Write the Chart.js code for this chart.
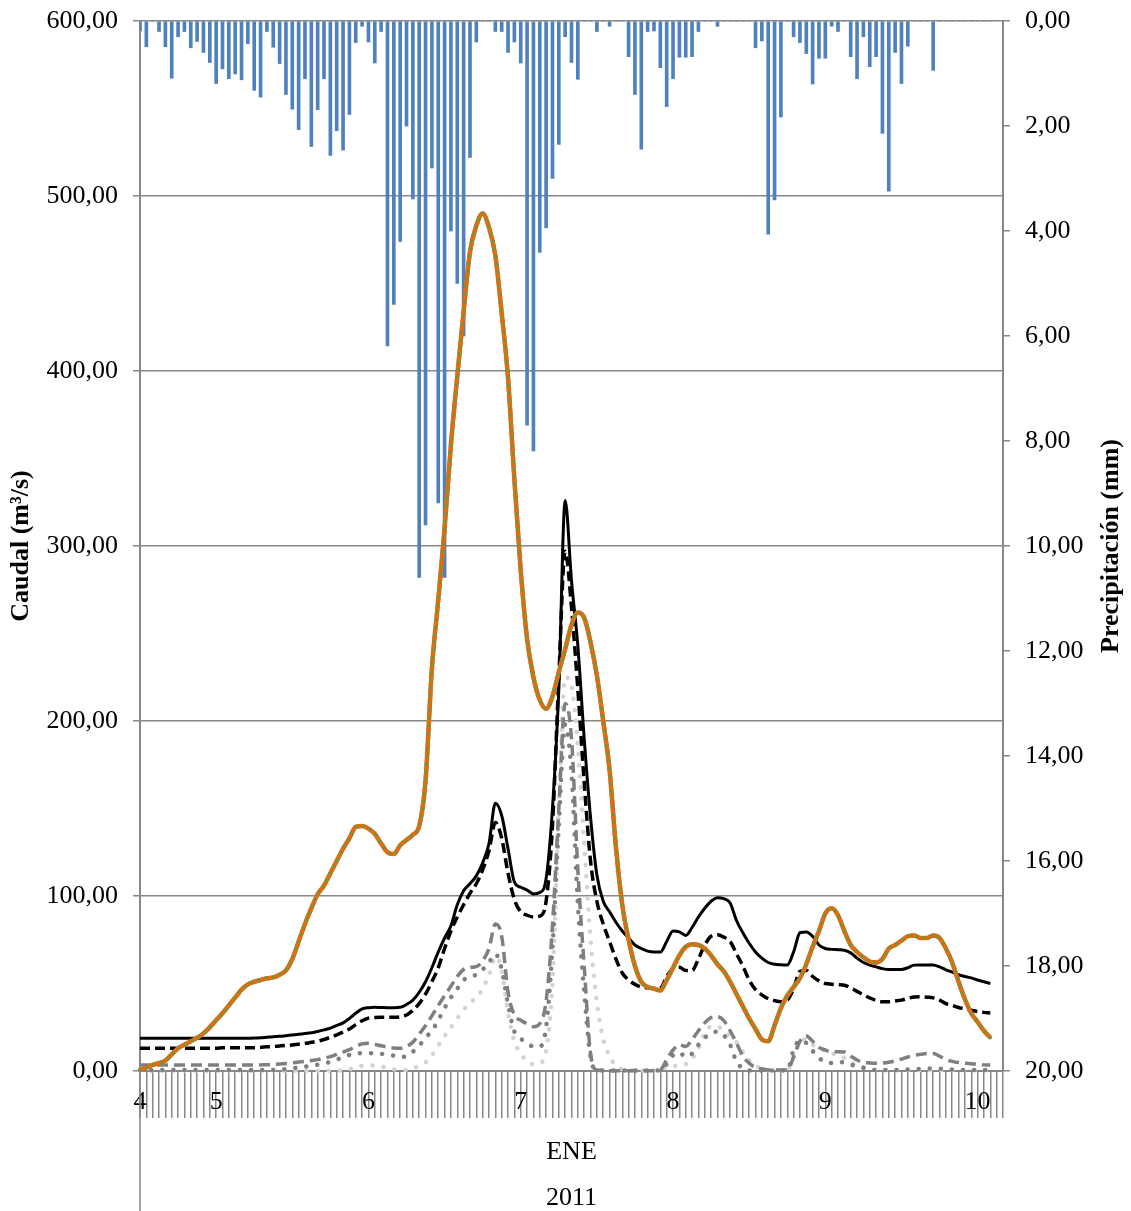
<!DOCTYPE html>
<html>
<head>
<meta charset="utf-8">
<script src="https://cdn.jsdelivr.net/npm/chart.js@4.4.1/dist/chart.umd.min.js"></script>
<style>
  html, body { margin: 0; padding: 0; background: #fff; }
</style>
</head>
<body>
<canvas id="chart" width="1131" height="1211"></canvas>
<script>
// hourly categories: day 4 (one hour), days 5-9 (24 h), day 10 (16 h)
const dayNames = ['4', '5', '6', '7', '8', '9', '10'];
const hoursPerDay = [1, 24, 24, 24, 24, 24, 16];
const dayLabelAt = [0, 12, 36, 60, 84, 108, 132];
const monthLabels = ['ENE'];
const yearLabels = ['2011'];

// precipitation (mm), one value per hour
const precip = [
  0.19, 0.49, 0, 0.2, 0.49, 1.09, 0.3, 0.2, 0.51, 0.39, 0.6, 0.79,
  1.19, 0.91, 1.1, 1.01, 1.12, 0.43, 1.32, 1.45, 0.2, 0.5, 0.81, 1.4,
  1.68, 2.07, 1.1, 2.39, 1.69, 1.1, 2.56, 2.09, 2.46, 1.78, 0.41, 0.1,
  0.4, 0.8, 0.2, 6.19, 5.4, 4.2, 2.0, 3.39, 10.6, 9.6, 2.8, 9.18,
  10.6, 4.0, 5.0, 6.0, 2.6, 0.4, 0, 0, 0.2, 0.2, 0.6, 0.4,
  0.8, 7.7, 8.19, 4.41, 3.94, 3.0, 2.35, 0.3, 0.79, 1.11, 0, 0,
  0.2, 0, 0.1, 0, 0, 0.68, 1.4, 2.44, 0.2, 0.19, 0.89, 1.63,
  1.1, 0.69, 0.69, 0.68, 0.2, 0, 0, 0.1, 0, 0, 0, 0,
  0, 0.51, 0.38, 4.06, 3.41, 1.83, 0, 0.3, 0.41, 0.62, 1.2, 0.71,
  0.71, 0.1, 0.2, 0, 0.68, 1.1, 0.3, 0.87, 0.68, 2.14, 3.24, 0.6,
  1.19, 0.48, 0, 0, 0, 0.94, 0, 0, 0, 0, 0, 0,
  0, 0, 0
];

// caudal (m3/s)
const flowTotal = [
  0.6, 2, 3.5, 4.5, 6, 9.5, 13, 15, 17, 19, 21.5, 25,
  29, 33, 37.5, 42, 46.5, 49.5, 51, 52, 53, 53.5, 55, 57.5,
  64, 74, 84, 93, 101, 106, 113, 120, 127, 133, 139.5, 140,
  138.5, 135.5, 130, 125, 124, 129, 132, 135, 140, 166, 230, 269,
  310, 358, 397, 434, 468, 483, 490, 482, 466, 433, 396, 338,
  286, 247, 225, 212, 207, 214, 228, 241, 255, 262, 259, 245,
  226, 200, 172, 128, 95, 75, 60, 51, 48, 47, 46, 52,
  59, 66, 71, 72.5, 72, 70, 66, 61, 57, 51, 44, 37,
  30, 24, 18, 17, 26, 36, 43, 48, 53, 61, 71, 80,
  90, 93, 89, 80, 72, 68, 65, 62.5, 62, 64, 70, 72,
  74.5, 77, 77.5, 76, 76, 77.5, 76, 70, 62, 51, 41, 33,
  28, 23, 19
];

const flowA = [
  18.7, 18.7, 18.7, 18.7, 18.7, 18.7, 18.7, 18.7, 18.7, 18.7, 18.7, 18.7,
  18.7, 18.7, 18.7, 18.7, 18.7, 18.7, 18.8, 19, 19.3, 19.6, 19.8, 20.2,
  20.6, 21, 21.4, 21.8, 22.6, 23.5, 24.5, 26, 27.5, 30, 33, 35.5,
  36.2, 36.4, 36.3, 36.2, 36.2, 36.4, 38, 40.5, 45, 51, 59, 68,
  76, 83, 95, 103, 107, 111.5, 119, 130, 153, 146, 127, 108,
  105, 103.4, 101.2, 102, 110, 150, 218, 326, 280, 243, 190, 145,
  112, 97, 91, 85, 80, 76, 72, 70, 68.5, 68, 68, 74,
  80, 79.5, 77.5, 82, 88, 93, 97, 99, 98.5, 96, 86, 79,
  73, 68, 64.5, 62, 61, 60.7, 60.6, 68, 79, 79.5, 77, 72,
  70, 69.5, 69.3, 69, 67.5, 64.5, 62, 60.5, 59.5, 58.5, 58, 58,
  58, 59, 60.5, 60.6, 60.6, 60.6, 59.5, 57.8, 56.5, 55, 54, 53.2,
  52, 51, 50
];

const flowB = [
  13, 13, 13, 13, 13, 13, 13, 13, 13, 13, 13, 13,
  13, 13.3, 13.3, 13.3, 13.3, 13.3, 13.3, 13.5, 13.8, 14, 14.3, 14.6,
  14.9, 15.3, 15.8, 16.4, 17, 18, 19.3, 20.6, 22.2, 24, 26.5, 28.7,
  30.2, 30.6, 30.7, 30.7, 30.7, 30.9, 32, 34.7, 38.5, 44, 51, 59,
  70, 80, 88, 95, 101.5, 107, 115, 126, 142, 133, 113, 98,
  91, 89, 88, 88.5, 97, 140, 225, 297, 265, 218, 165, 120,
  97, 84, 74, 64, 56, 52, 49.5, 48, 47.5, 47.3, 47.4, 54,
  58.5, 59.3, 57.5, 57.5, 64, 72, 77, 77.8, 76.5, 74, 67, 60,
  52, 46.5, 43.5, 41.3, 40.2, 39.6, 40.5, 47, 57, 57.5, 54, 51.5,
  50, 49.6, 49.3, 49, 47.5, 45.5, 43.5, 41.8, 40.3, 39.6, 39.6, 40,
  40.5, 41.5, 42.3, 42.5, 42.2, 41.8, 40.5, 38.5, 37.5, 36.3, 35.5, 34.8,
  34, 33.5, 33.2
];

const flowC = [
  3.4, 3.4, 3.4, 3.4, 3.4, 3.4, 3.4, 3.4, 3.4, 3.4, 3.4, 3.4,
  3.4, 3.4, 3.4, 3.4, 3.4, 3.4, 3.4, 3.5, 3.6, 3.8, 4, 4.3,
  4.7, 5.1, 5.5, 6, 6.5, 7.3, 8.2, 9.5, 10.8, 12.2, 14, 15.5,
  15.8, 15.2, 14.4, 13.7, 13.2, 13, 14, 16.5, 21, 26, 31.5, 37.5,
  43, 48.5, 54, 58, 59.2, 59.6, 63, 70, 84, 77, 45, 32,
  29, 27, 25.3, 27, 40, 83, 150, 210, 190, 115, 60, 10,
  0.6, 0.3, 0.2, 0.2, 0.2, 0.2, 0.2, 0.2, 0.2, 0.2, 0.6, 6.5,
  12, 15, 14, 18, 23, 27.5, 30.5, 31, 28.8, 23, 16, 8.5,
  4.5, 2, 1.3, 0.6, 0.6, 0.6, 0.6, 8, 17, 20, 17, 13.5,
  12, 11, 11, 10.8, 8.5, 6.3, 5, 4.6, 4.4, 4.5, 5, 5.8,
  6.8, 8, 8.9, 9.5, 10, 10, 8.5, 6.6, 5.5, 4.8, 4.4, 4.2,
  3.8, 3.5, 3.4
];

const flowD = [
  0.6, 0.6, 0.6, 0.6, 0.6, 0.6, 0.6, 0.6, 0.6, 0.6, 0.6, 0.6,
  0.6, 0.6, 0.6, 0.6, 0.6, 0.6, 0.6, 0.6, 0.6, 0.6, 0.6, 1.2,
  1.6, 2, 2.5, 3, 3.6, 4.3, 5.2, 6.5, 8, 9.2, 10, 10.2,
  10.2, 10, 9.8, 9.5, 8.8, 8, 8.5, 11, 14.5, 19, 23, 29,
  36, 42, 47, 52, 54, 55, 58, 62, 67, 58, 38, 22.5,
  18.5, 16, 14, 14, 25, 70, 140, 198, 170, 95, 45, 8,
  0.5, 0.3, 0.3, 0.3, 0.3, 0.3, 0.3, 0.3, 0.3, 0.3, 0.3, 4,
  9, 10.5, 8, 10, 15, 19, 21.7, 22.5, 20.5, 15, 5.5, 1.5,
  0.3, 0.3, 0.3, 0.3, 0.3, 0.3, 0.3, 12, 17.5, 16, 11.5, 7.5,
  5, 4.5, 5.2, 4.8, 3.6, 2.8, 1.8, 0.8, 0.6, 0.6, 0.6, 0.6,
  0.6, 0.8, 1, 1.2, 1.4, 1.5, 1.4, 1, 0.8, 0.6, 0.6, 0.6,
  0.6, 0.6, 0.6
];

const flowE = [
  0.2, 0.2, 0.2, 0.2, 0.2, 0.2, 0.2, 0.2, 0.2, 0.2, 0.2, 0.2,
  0.2, 0.2, 0.2, 0.2, 0.2, 0.2, 0.2, 0.2, 0.2, 0.2, 0.2, 0.2,
  0.2, 0.2, 0.2, 0.2, 0.2, 0.2, 0.2, 0.2, 0.4, 1, 2, 3,
  3.3, 3, 2.5, 2, 1, 0.5, 0.6, 1.5, 3, 5, 9, 14.5,
  20, 25, 30, 35, 39, 42, 47, 55, 65, 58, 33, 17,
  10, 5.5, 3.8, 4.5, 12, 50, 150, 225, 220, 185, 130, 75,
  39, 18, 8.5, 3, 1, 0.3, 0.3, 0.3, 0.3, 0.3, 0.3, 2.5,
  2.8, 3.2, 3.8, 7, 13, 21.5, 25.5, 25.5, 23, 20, 16.5, 11,
  6, 3, 1.3, 0.3, 0.3, 0.3, 0.3, 8, 17, 18, 15, 13,
  11.5, 10.2, 9, 7.5, 5, 3.5, 2.3, 1.2, 0.5, 0.5, 0.5, 0.5,
  0.5, 0.5, 0.5, 0.5, 0.5, 0.5, 0.5, 0.5, 0.5, 0.5, 0.5, 0.5,
  0.5, 0.5, 0.5
];

const hourLabels = [];
dayNames.forEach((d, k) => {
  const first = k === 0 ? 24 - hoursPerDay[0] : 0;
  for (let h = 0; h < hoursPerDay[k]; h++) {
    hourLabels.push(d + '/01 ' + String(first + h).padStart(2, '0') + ':00');
  }
});

const gray = '#878787';
const serif = "'Liberation Serif', 'Times New Roman', serif";
const tickFont = { family: serif, size: 26 };
const titleFont = { family: serif, size: 26, weight: 'bold' };
const fmt = v => Number(v).toFixed(2).replace('.', ',');

// left separator under the axis and the right axis title (reads bottom to top)
const extras = {
  id: 'extras',
  afterDraw(chart) {
    const { ctx, chartArea } = chart;
    ctx.save();
    ctx.strokeStyle = gray;
    ctx.lineWidth = 1.5;
    ctx.beginPath();
    ctx.moveTo(chartArea.left, chartArea.bottom);
    ctx.lineTo(chartArea.left, chart.height);
    ctx.stroke();
    ctx.translate(chart.width - 20, (chartArea.top + chartArea.bottom) / 2);
    ctx.rotate(-Math.PI / 2);
    ctx.font = 'bold 26px ' + serif;
    ctx.fillStyle = '#000';
    ctx.textAlign = 'center';
    ctx.textBaseline = 'middle';
    ctx.fillText('Precipitación (mm)', 0, 0);
    ctx.restore();
  }
};

const dotted = (color, width, gap) => ({
  borderColor: color, borderWidth: width, borderDash: [0.1, gap], borderCapStyle: 'round'
});

// keep the vertical axes from pushing the plot down
const fixVertical = width => s => {
  s.width = width;
  s.paddingTop = 8;
  s.paddingBottom = 8;
};

new Chart(document.getElementById('chart'), {
  type: 'line',
  data: {
    labels: hourLabels,
    datasets: [
      Object.assign({ label: 'Caudal total (2)', data: flowTotal, order: 0 }, dotted('#77933C', 3.5, 7.5)),
      { label: 'Caudal total', data: flowTotal, borderColor: '#E46C0A', borderWidth: 4.5, order: 1 },
      { label: 'Caudal total (1)', data: flowTotal, borderColor: '#4F81BD', borderWidth: 4, order: 2 },
      { label: 'Caudal A', data: flowA, borderColor: '#000', borderWidth: 3, order: 3 },
      { label: 'Caudal B', data: flowB, borderColor: '#000', borderWidth: 3.5, borderDash: [10, 5], order: 4 },
      { label: 'Caudal C', data: flowC, borderColor: '#7f7f7f', borderWidth: 3.5, borderDash: [11, 6], order: 5 },
      Object.assign({ label: 'Caudal D', data: flowD, order: 6 }, dotted('#7f7f7f', 4.5, 11)),
      Object.assign({ label: 'Caudal E', data: flowE, order: 7 }, dotted('#d3d3d3', 4.5, 11)),
      {
        type: 'bar', label: 'Precipitación', data: precip, yAxisID: 'y1',
        backgroundColor: '#4F81BD', barThickness: 3, order: 8
      }
    ]
  },
  options: {
    responsive: false,
    animation: false,
    layout: { padding: { top: 21, left: 0, right: 0, bottom: 0 } },
    elements: {
      point: { radius: 0, hoverRadius: 0 },
      line: { cubicInterpolationMode: 'monotone', fill: false }
    },
    datasets: { line: { clip: 6 } },
    plugins: { legend: { display: false }, tooltip: { enabled: false } },
    scales: {
      x: {
        type: 'category',
        position: 'bottom',
        weight: 0,
        offset: false,
        grid: {
          display: true, offset: false, drawOnChartArea: false, drawTicks: true,
          tickLength: 47, color: gray, lineWidth: 1.5
        },
        border: { display: true, color: gray, width: 2 },
        ticks: {
          autoSkip: false, maxRotation: 0, minRotation: 0, padding: -31,
          color: '#000', font: tickFont,
          callback: (v, i) => {
            const k = dayLabelAt.indexOf(i);
            return k >= 0 ? dayNames[k] : '';
          }
        },
        afterFit: s => { s.height = 54; }
      },
      x2: {
        type: 'category',
        position: 'bottom',
        weight: 1,
        labels: monthLabels,
        offset: true,
        grid: { display: false },
        border: { display: false },
        ticks: { padding: 4, color: '#000', font: tickFont, maxRotation: 0 },
        afterFit: s => { s.height = 50; }
      },
      x3: {
        type: 'category',
        position: 'bottom',
        weight: 2,
        labels: yearLabels,
        offset: true,
        grid: { display: false },
        border: { display: false },
        ticks: { padding: 0, color: '#000', font: tickFont, maxRotation: 0 },
        afterFit: s => { s.height = 36; }
      },
      y: {
        type: 'linear',
        position: 'left',
        min: 0,
        max: 600,
        ticks: { stepSize: 100, padding: 15, color: '#000', font: tickFont, callback: fmt },
        grid: { color: gray, lineWidth: 1.5, tickLength: 7 },
        border: { color: gray, width: 2 },
        title: {
          display: true, text: 'Caudal (m³/s)', color: '#000', font: titleFont,
          padding: { top: 6, bottom: 0 }
        },
        afterFit: fixVertical(140)
      },
      y1: {
        type: 'linear',
        position: 'right',
        min: 0,
        max: 20,
        reverse: true,
        ticks: { stepSize: 2, padding: 15, color: '#000', font: tickFont, callback: fmt },
        grid: { drawOnChartArea: false, color: gray, lineWidth: 1.5, tickLength: 7 },
        border: { color: gray, width: 2 },
        afterFit: fixVertical(128)
      }
    }
  },
  plugins: [extras]
});
</script>
</body>
</html>
